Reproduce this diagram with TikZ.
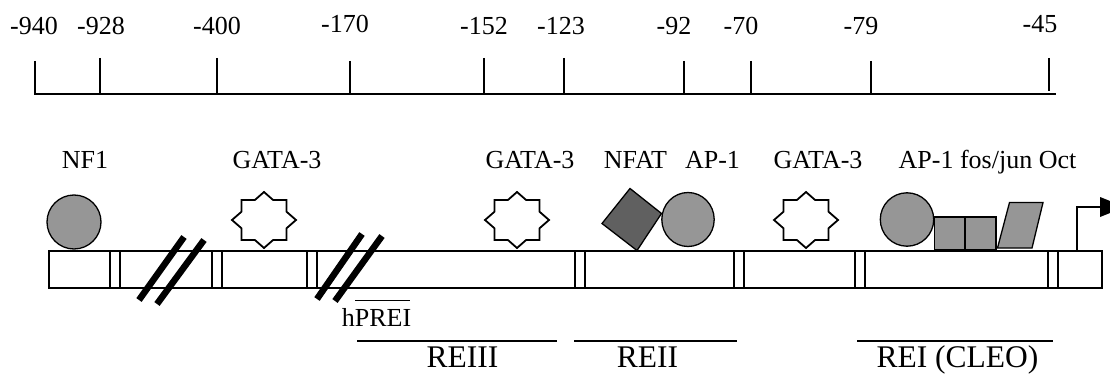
\documentclass[tikz,border=0pt]{standalone}
\usepackage{fontspec}
\setmainfont{Liberation Serif}
\definecolor{factorgray}{RGB}{150,150,150}
\definecolor{nfatgray}{RGB}{96,96,96}
\begin{document}
\begin{tikzpicture}[x=1pt,y=-1pt,
  lab/.style={inner sep=0pt, anchor=base, font=\fontsize{26}{30}\selectfont},
  biglab/.style={inner sep=0pt, anchor=base, font=\fontsize{31.5}{36}\selectfont},
  ruleline/.style={line width=2pt},
  track/.style={line width=1.4pt},
  brk/.style={line width=6.5pt, black},
  factor/.style={draw, line width=1.3pt, fill=factorgray},
  nfat/.style={draw, line width=1.3pt, fill=nfatgray},
  gata/.pic={
    \draw[line width=1.8pt, fill=white, line join=miter]
      (0,-28) -- (9.1,-20) -- (22.5,-20) -- (22.5,-8.3) -- (32,0)
      -- (22.5,8.3) -- (22.5,20) -- (9.1,20) -- (0,28)
      -- (-9.1,20) -- (-22.5,20) -- (-22.5,8.3) -- (-32,0)
      -- (-22.5,-8.3) -- (-22.5,-20) -- (-9.1,-20) -- cycle;
  }
]
\useasboundingbox (0,0) rectangle (1110,374);

% position scale
\draw[ruleline] (34,94) -- (1056,94);
\foreach \x/\top in {35/61,100/58,217/58,350/61,484/58,564/58,684/61,751/61,871/61}
  \draw[ruleline] (\x,\top) -- (\x,94);
\draw[ruleline] (1049,58) -- (1049,91);
\foreach \x/\b/\t [count=\i] in {34/35/-940,101/35/-928,217/35/-400,345/33/-170,
    484/35/-152,561/35/-123,674/35/-92,741/35/-70,861/35/-79,1040/33/-45}
  \node[lab] (pos\i) at (\x,\b) {\t};

% promoter track
\draw[track, fill=white] (49,251) rectangle (1102,288);
\foreach \x in {110,212,307,575,734,855,1048}
  \draw[track] (\x,251) -- (\x,288) (\x+10,251) -- (\x+10,288);

% breaks in the sequence
\draw[brk] (139,300) -- (184,237);
\draw[brk] (157,304) -- (204,240);
\draw[brk] (317,299) -- (362,234);
\draw[brk] (335,301) -- (382,236);

% bound factors
\draw[factor] (74,222) circle (27);
\pic (gata1) at (264,220) {gata};
\pic (gata2) at (517,220) {gata};
\pic (gata3) at (806,220) {gata};
\draw[nfat] (630,188.5) -- (661.5,213.5) -- (637,250.5) -- (602,223.5) -- cycle;
\draw[factor] (688,219.5) ellipse (26.2 and 27);
\draw[factor] (907,219.5) circle (26.7);
\draw[factor] (934.5,217) rectangle (965,250);
\draw[factor] (965,217) rectangle (996,250);
\draw[factor] (997.5,248) -- (1009.5,202.5) -- (1043,202.5) -- (1032,248) -- cycle;

% transcription start
\coordinate (tss) at (1077,251);
\coordinate (tssk) at (1077,207);
\coordinate (tsse) at (1100,207);
\draw[line width=1.4pt] (tss) -- (tssk) -- (tsse);
\fill (1100,197) -- (1125,207) -- (1100,217) -- cycle;

% factor labels
\node[lab] (lnf1) at (85,169) {NF1};
\node[lab] (lg1) at (277,169) {GATA-3};
\node[lab] (lg2) at (530,169) {GATA-3};
\node[lab] (lnfat) at (635.5,169) {NFAT};
\node[lab] (lap1) at (712.5,169) {AP-1};
\node[lab] (lg3) at (818,169) {GATA-3};
\node[lab] (lrei) at (987.5,169) {AP-1 fos/jun Oct};

% regulatory elements
\node[lab] (hprei) at (376.5,326.5) {hPREI};
\draw[line width=1.2pt] (355,300.5) -- (410,300.5);
\draw[line width=1.6pt] (357,340.7) -- (557,340.7);
\draw[line width=1.6pt] (574,340.7) -- (737,340.7);
\draw[line width=1.6pt] (857,341) -- (1053,341);
\node[biglab] (reiii) at (462.5,367) {REIII};
\node[biglab] (reii) at (647.5,367) {REII};
\node[biglab] (reicleo) at (957.5,367.5) {REI (CLEO)};
\end{tikzpicture}
\end{document}
